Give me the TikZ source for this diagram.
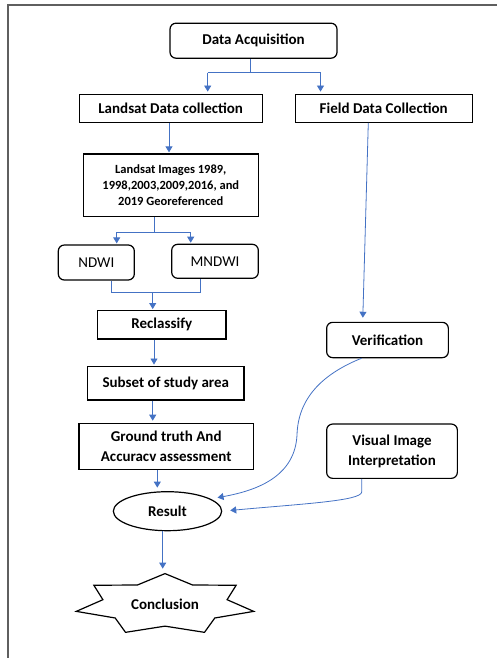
\documentclass[tikz,border=0pt]{standalone}
\usepackage{fontspec}
\setmainfont{Carlito}
\usetikzlibrary{arrows.meta,shapes.geometric,calc}
\definecolor{lblue}{RGB}{68,114,196}
\definecolor{framec}{RGB}{95,95,95}
\begin{document}
\begin{tikzpicture}[x=1pt,y=-1pt,
  box/.style={draw=black, line width=1.2pt, align=center, inner sep=0pt,
    font=\bfseries\fontsize{15}{20}\selectfont},
  rbox/.style={box, rounded corners=6pt},
  bline/.style={draw=lblue, line width=0.8pt},
  arr/.style={bline, -{Triangle[width=7pt,length=6pt]}},
]
\useasboundingbox (0,0) rectangle (497,658);
% frame
\draw[framec, line width=1.5pt] (497,5) -- (8,5) -- (8,658);

% nodes
\node[rbox, minimum width=167pt, minimum height=35pt] (acq) at (253.5,40.7) {Data Acquisition};
\node[box, minimum width=183pt, minimum height=28pt] (lds) at (170.7,108.2) {Landsat Data collection};
\node[box, minimum width=177pt, minimum height=28pt] (fld) at (383.7,108.2) {Field Data Collection};
\node[box, minimum width=175pt, minimum height=62.7pt, font=\bfseries\fontsize{12.5}{16}\selectfont] (img) at (170.8,185.3)
  {Landsat Images 1989,\\1998,2003,2009,2016, and\\2019 Georeferenced};
\node[rbox, font=\fontsize{15}{20}\selectfont, minimum width=76pt, minimum height=35pt] (ndwi) at (96.3,262.5) {NDWI};
\node[rbox, font=\fontsize{15}{20}\selectfont, minimum width=86.6pt, minimum height=34pt] (mndwi) at (215,261.3) {MNDWI};
\node[box, minimum width=128.3pt, minimum height=28.3pt] (recl) at (161.8,324.8) {Reclassify};
\node[box, minimum width=156.3pt, minimum height=33.3pt] (subs) at (165.8,383.3) {Subset of study area};
\node[box, minimum width=174.3pt, minimum height=46pt] (grnd) at (166.2,446.3) {Ground truth And\\Accuracv assessment};
\node[rbox, minimum width=121.7pt, minimum height=35.3pt] (verif) at (387.5,340) {Verification};
\node[rbox, minimum width=130.7pt, minimum height=54.3pt] (vis) at (392,451.2) {Visual Image\\Interpretation};
\node[draw=black, line width=1.2pt, ellipse, inner sep=0pt, minimum width=108.3pt, minimum height=39pt,
  font=\bfseries\fontsize{15}{20}\selectfont] (res) at (167.5,511.2) {Result};
\node[inner sep=0pt, font=\bfseries\fontsize{15}{20}\selectfont] (conc) at (165,604.5) {Conclusion};
\begin{scope}[shift={(conc.center)}]
  \draw[line width=1.2pt, line join=miter]
    plot[samples at={0,1,...,13}, variable=\k]
    ({(1-0.3*mod(\k,2))*91*cos(90+\k*360/14)},{-(1-0.3*mod(\k,2))*30.9*sin(90+\k*360/14)}) -- cycle;
  \coordinate (ctop) at (-2.3,-30.9);
\end{scope}

% connectors: acquisition split
\coordinate (a1) at (207.7,72.7);
\coordinate (a2) at (320.5,72.7);
\coordinate (xa) at (250.7,72.7);
\draw[bline] (xa |- acq.south) -- (xa);
\draw[bline] (a1) -- (a2);
\draw[arr, shorten >=2pt] (a1) -- (a1 |- lds.north);
\draw[arr, shorten >=2pt] (a2) -- (a2 |- fld.north);

% landsat -> images
\coordinate (xb) at (169,0);
\draw[arr, shorten >=1pt] (xb |- lds.south) -- (xb |- img.north);

% images split
\coordinate (b0) at (154,232.3);
\coordinate (b1) at (116.7,232.3);
\coordinate (b2) at (190.7,232.3);
\draw[bline] (b0 |- img.south) -- (b0);
\draw[bline] (b1) -- (b2);
\draw[arr, shorten >=1pt] (b1) -- (b1 |- ndwi.north);
\draw[arr, shorten >=1pt] (b2) -- (b2 |- mndwi.north);

% merge
\coordinate (c1) at (111.7,292.3);
\coordinate (c2) at (200.7,292.3);
\coordinate (c0) at (152.7,292.3);
\draw[bline] (c1 |- ndwi.south) -- (c1) -- (c2) -- (c2 |- mndwi.south);
\draw[arr, shorten >=1pt] (c0) -- (c0 |- recl.north);

% chain
\coordinate (xr) at (154,0);
\draw[arr, shorten >=1.5pt] (xr |- recl.south) -- (xr |- subs.north);
\coordinate (xs) at (152.7,0);
\draw[arr, shorten >=2pt] (xs |- subs.south) -- (xs |- grnd.north);
\coordinate (xg) at (157.3,0);
\draw[arr, shorten >=3.5pt] (xg |- grnd.south) -- (xg |- res.north);
\coordinate (xc) at (162.7,0);
\draw[arr, shorten >=5pt] (xc |- res.south) -- (xc |- ctop);

% field -> verification
\draw[arr, shorten >=4pt] ([xshift=-15.4pt]fld.south) -- ([xshift=-24.8pt]verif.north);

% verification -> result
\draw[arr, shorten >=7pt] ([xshift=-26pt]verif.south)
  .. controls (320,375) and (298,400) .. (297,435)
  .. controls (295,475) and (260,490) .. (res.16);

% visual -> result
\draw[arr, shorten >=8pt] ([xshift=-30.3pt]vis.south) -- ++(0,13)
  .. controls +(0,9) and (300,504) .. (res.east);
\end{tikzpicture}
\end{document}
